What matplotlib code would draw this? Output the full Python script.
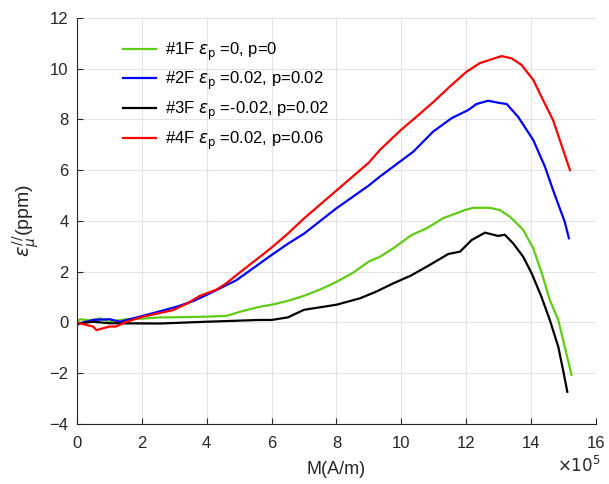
import numpy as np
import matplotlib
matplotlib.use("Agg")
import matplotlib.pyplot as plt

plt.rcParams['font.family'] = ['Liberation Sans', 'DejaVu Sans']
plt.rcParams['mathtext.fontset'] = 'dejavusans'

# M in units of 1e5 A/m, strain in ppm
m1 = [0, 0.09, 0.4, 0.71, 1.0, 1.53, 2.0, 2.56, 3.2, 4.0, 4.61, 5.1, 5.64, 6.0, 6.5, 7.0,
      7.5, 8.0, 8.5, 9.0, 9.34, 9.75, 10.32, 10.78, 11.29, 11.96, 12.22, 12.73, 13.04,
      13.35, 13.76, 14.07, 14.32, 14.58, 14.84, 15.04, 15.25]
e1 = [0.0, 0.13, 0.08, 0.16, 0.03, 0.13, 0.15, 0.2, 0.21, 0.23, 0.26, 0.45, 0.62, 0.7,
      0.85, 1.05, 1.3, 1.6, 1.95, 2.4, 2.59, 2.92, 3.45, 3.71, 4.11, 4.43, 4.52, 4.52,
      4.43, 4.17, 3.65, 2.92, 2.0, 0.89, 0.1, -0.95, -2.07]

m2 = [0, 0.09, 0.5, 1.0, 1.33, 1.94, 2.5, 3.07, 3.6, 4.1, 4.92, 5.5, 6.0, 6.5, 7.0, 7.5,
      8.0, 8.5, 9.0, 9.34, 9.75, 10.37, 10.98, 11.55, 12.06, 12.32, 12.68, 12.99, 13.25,
      13.6, 14.07, 14.43, 14.68, 15.04, 15.17]
e2 = [-0.1, -0.03, 0.1, 0.13, 0.03, 0.23, 0.42, 0.62, 0.85, 1.15, 1.67, 2.2, 2.66, 3.1,
      3.5, 4.0, 4.5, 4.95, 5.4, 5.75, 6.14, 6.73, 7.52, 8.05, 8.37, 8.61, 8.74, 8.66, 8.61,
      8.11, 7.19, 6.14, 5.22, 3.97, 3.32]

m3 = [0, 0.5, 1.0, 2.56, 4.0, 5.64, 6.0, 6.5, 7.0, 8.0, 8.72, 9.2, 9.75, 10.3, 10.88,
      11.45, 11.81, 12.17, 12.58, 12.99, 13.19, 13.45, 13.76, 14.02, 14.32, 14.58, 14.84,
      15.0, 15.12]
e3 = [-0.05, 0.03, -0.03, -0.04, 0.03, 0.1, 0.1, 0.2, 0.5, 0.7, 0.95, 1.2, 1.54, 1.85,
      2.27, 2.7, 2.79, 3.25, 3.54, 3.41, 3.46, 3.12, 2.59, 1.94, 1.02, 0.1, -0.95, -1.94,
      -2.73]

m4 = [0, 0.09, 0.3, 0.5, 0.6, 1.0, 1.2, 1.53, 2.04, 2.97, 3.4, 3.79, 4.31, 4.61, 5.0,
      5.5, 6.0, 6.5, 7.0, 7.5, 8.0, 8.5, 9.0, 9.34, 10.0, 10.37, 11.0, 11.5, 12.01, 12.42,
      12.73, 13.09, 13.4, 13.71, 14.07, 14.37, 14.68, 15.2]
e4 = [0.0, -0.03, -0.1, -0.16, -0.3, -0.16, -0.16, 0.03, 0.23, 0.49, 0.75, 1.05, 1.3,
      1.55, 1.95, 2.45, 2.95, 3.5, 4.1, 4.65, 5.2, 5.75, 6.3, 6.8, 7.6, 8.0, 8.7, 9.3,
      9.88, 10.22, 10.35, 10.5, 10.41, 10.15, 9.56, 8.77, 7.98, 6.01]

labels = [r'#1F $\epsilon_{\rm p}$ =0, p=0',
          r'#2F $\epsilon_{\rm p}$ =0.02, p=0.02',
          r'#3F $\epsilon_{\rm p}$ =-0.02, p=0.02',
          r'#4F $\epsilon_{\rm p}$ =0.02, p=0.06']
colors = ['#5fcc14', '#0000ff', '#000000', '#ff0000']

fig = plt.figure(figsize=(6.09, 4.84), dpi=100)
ax = fig.add_axes([0.1264, 0.124, 0.852, 0.8388])

for m, e, lab, c in zip([m1, m2, m3, m4], [e1, e2, e3, e4], labels, colors):
    ax.plot(m, e, color=c, lw=1.6, label=lab)

ax.set_xlim(0, 16)
ax.set_ylim(-4, 12)
ax.set_xticks(np.arange(0, 17, 2))
ax.set_yticks(np.arange(-4, 13, 2))
ax.grid(True, color='#e3e3e3', lw=0.8)
ax.set_axisbelow(True)
for s in ['top', 'right']:
    ax.spines[s].set_visible(False)
for s in ['left', 'bottom']:
    ax.spines[s].set_color('#262626')
    ax.spines[s].set_linewidth(0.8)
ax.tick_params(direction='in', length=4, labelsize=12, colors='#262626',
               labelcolor='#262626')
ax.tick_params(axis='x', pad=9)
ax.tick_params(axis='y', pad=6)

ax.set_xlabel('M(A/m)', fontsize=13, color='#262626', labelpad=7)
ax.set_ylabel(r'$\epsilon_{\mu}^{//}$(ppm)', fontsize=14, color='#262626', labelpad=6)
ax.text(1.01, -0.077, r'$\times10^5$', transform=ax.transAxes, ha='right', va='top',
        fontsize=12, color='#262626')

ax.legend(loc='upper left', bbox_to_anchor=(0.06, 0.982), frameon=False, fontsize=12,
          handlelength=2.0, handletextpad=0.5, labelspacing=0.45)

fig.savefig('out.png', dpi=100)
